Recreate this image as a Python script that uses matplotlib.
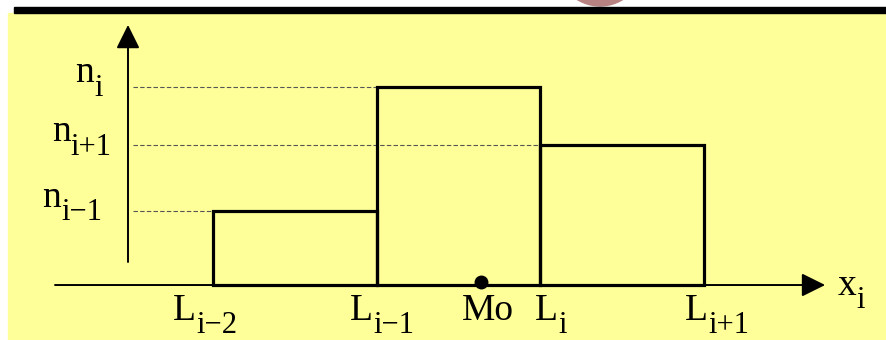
import matplotlib
matplotlib.use("Agg")
import matplotlib.pyplot as plt
from matplotlib.patches import Rectangle, Ellipse

# class boundaries L_{i-2} .. L_{i+1} and frequencies n_{i-1}, n_i, n_{i+1}
edges = [1.0, 2.0, 3.0, 4.0]
freqs = [1.0, 2.68, 1.89]
mode_x = 2.64

edge_labels = [("L", "i\u22122"), ("L", "i\u22121"), ("L", "i"), ("L", "i+1")]
freq_labels = [("n", "i\u22121"), ("n", "i"), ("n", "i+1")]

# label offsets (points) of the "L" relative to its boundary
edge_label_dx = [-29, -19, -4, -14]
freq_label_x = [-0.045, 0.16, 0.015]

W, H = 887, 340
fig = plt.figure(figsize=(W / 100, H / 100), dpi=100)
fig.patch.set_facecolor("white")

# slide decorations
fig.patches.append(Ellipse((600 / W, 1 + 37 / H), 86 / W, 86 / H,
                           transform=fig.transFigure, color="#b98282", zorder=-3))
fig.patches.append(Rectangle((8 / W, 0), 879 / W, 1 - 13 / H,
                             transform=fig.transFigure, color="#ffff99", zorder=-2))
fig.patches.append(Rectangle((14 / W, 1 - 13 / H), 873 / W, 6 / H,
                             transform=fig.transFigure, color="black", zorder=-1))

ax = fig.add_axes([0, 0, 1, 1])
ax.set_zorder(5)
ax.set_facecolor("none")
ax.set_xlim(-0.301, 5.118)
ax.set_ylim(-0.743, 3.851)
ax.axis("off")

FONT = "Liberation Serif"
MAIN = 27
SUB = 22

# axes arrows
arrow = dict(arrowstyle="-|>,head_length=1.45,head_width=0.72", mutation_scale=10,
             lw=1.4, color="black", shrinkA=0, shrinkB=0)
ax.annotate("", xy=(4.74, 0), xytext=(0.035, 0), arrowprops=arrow)
ax.annotate("", xy=(0.481, 3.514), xytext=(0.481, 0.311), arrowprops=arrow)

# histogram
centers = [(a + b) / 2 for a, b in zip(edges[:-1], edges[1:])]
widths = [b - a for a, b in zip(edges[:-1], edges[1:])]
ax.bar(centers, freqs, width=widths, fill=False, edgecolor="black", lw=2.3, zorder=3)

# dashed guides from y axis to each bar
ax.hlines(freqs, 0.511, edges[:-1], colors="#555555", lw=0.8,
          linestyles=(0, (4, 2)), zorder=2)

# mode point
ax.plot([mode_x], [0.045], "o", color="black", ms=9, zorder=4)


def sub_label(x, y, main, sub, dx=0, dy=0):
    t = ax.annotate(main, xy=(x, y), xytext=(dx, dy), textcoords="offset points",
                    ha="left", va="baseline", fontsize=MAIN, family=FONT)
    if sub:
        ax.annotate(sub, xy=(1, 0), xycoords=t, xytext=(0.3, -4), textcoords="offset points",
                    ha="left", va="baseline", fontsize=SUB, family=FONT)


for e, (m, s), dx in zip(edges, edge_labels, edge_label_dx):
    sub_label(e, 0, m, s, dx=dx, dy=-25)

sub_label(mode_x, 0, "Mo", "", dx=-14, dy=-25)

for f, (m, s), fx in zip(freqs, freq_labels, freq_label_x):
    sub_label(fx, f, m, s, dy=3)

sub_label(4.815, 0, "x", "i", dy=-7)

fig.savefig("out.png", dpi=100, facecolor=fig.get_facecolor())
